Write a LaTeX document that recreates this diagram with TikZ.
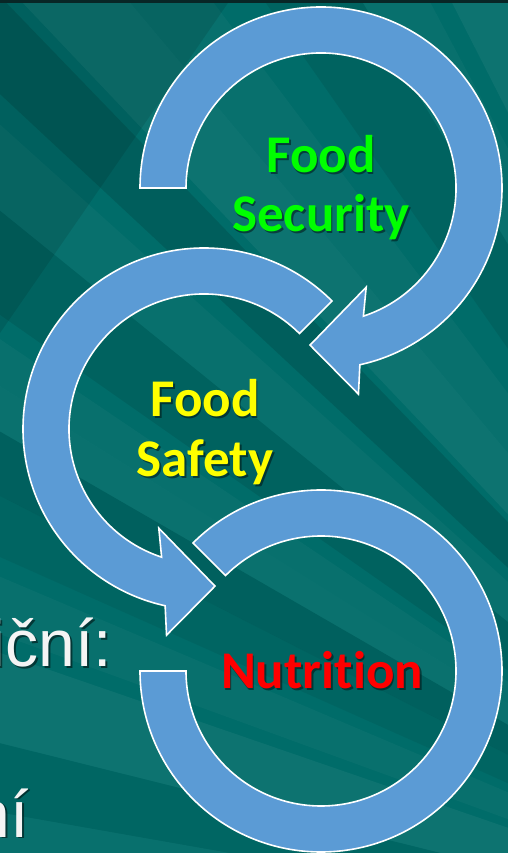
\documentclass[tikz,border=0pt]{standalone}
\usepackage{fontspec}
\setmainfont{Carlito}[Ligatures=NoCommon]
\newfontfamily\arialfont{Liberation Sans}
\definecolor{bgteal}{HTML}{006C69}
\definecolor{arrowblue}{HTML}{5B9BD5}
\definecolor{secgreen}{HTML}{00FF00}
\definecolor{safyellow}{HTML}{FFFF00}
\definecolor{nutred}{HTML}{FF0000}
\definecolor{txtwhite}{HTML}{F4F4F4}
\definecolor{topbar}{HTML}{082626}
\tikzset{
  arrowshape/.style={fill=arrowblue, draw=white, line width=1.6pt, line join=miter},
  lbl/.style={inner sep=0pt, font=\fontsize{53}{59}\selectfont\bfseries},
  sidetxt/.style={inner sep=0pt, font=\arialfont\fontsize{66}{76}\selectfont},
}
\newcommand\shadowed[5]{%
  \node[#5, text=black, opacity=0.45, anchor=base] (#1s) at ([shift={(1.8,-1.8)}]#2) {#4};
  \node[#5, text=#3, anchor=base] (#1) at (#2) {#4};}
\newcommand\shadowedE[5]{%
  \node[#5, text=black, opacity=0.5, anchor=base east] (#1s) at ([shift={(2,-2)}]#2) {#4};
  \node[#5, text=#3, anchor=base east] (#1) at (#2) {#4};}
\begin{document}
\begin{tikzpicture}[x=1pt,y=1pt]
\useasboundingbox (0,0) rectangle (508,853);
\begin{scope}
  \clip (0,0) rectangle (508,853);
  \fill[bgteal] (0,0) rectangle (508,853);
  \coordinate (R) at (950,-127);
  \foreach \a/\b/\c/\o in {
    110/113/white/0.03, 114/117/white/0.05, 118/121/white/0.03, 121/125/black/0.08,
    127/130/white/0.03, 130/133.5/white/0.05, 134/137/black/0.12, 138/141/white/0.03,
    141/145/black/0.09, 146/148/white/0.03, 148/150/white/0.04, 150/153/black/0.10,
    153/156/black/0.06, 157/160/white/0.03, 161/166/white/0.05, 166/170/black/0.05,
    170/175/white/0.03}
  { \fill[\c, opacity=\o] (R) -- ([shift={(\a:2000pt)}]R) -- ([shift={(\b:2000pt)}]R) -- cycle; }
  \fill[black, opacity=0.10] (0,853) -- (0,520) -- (230,853) -- cycle;
  \fill[topbar] (0,850) rectangle (508,853);
\end{scope}

\coordinate (C1) at (321,665);
\coordinate (C2) at (204,424);
\coordinate (C3) at (321,182);

% arrow 1: Food Security
\draw[arrowshape] ([shift={(180:181pt)}]C1) arc[start angle=180, end angle=-77.6, radius=181pt]
  -- ([shift={(-79.7:209.5pt)}]C1) -- ([shift={(-94:157.5pt)}]C1)
  -- ([shift={(-65.5:109pt)}]C1) -- ([shift={(-71.7:135pt)}]C1)
  arc[start angle=-71.7, end angle=180, radius=135pt] -- cycle;
% arrow 2: Food Safety
\draw[arrowshape] ([shift={(45:181pt)}]C2) arc[start angle=45, end angle=257.6, radius=181pt]
  -- ([shift={(259.7:209.5pt)}]C2) -- ([shift={(274:157.5pt)}]C2)
  -- ([shift={(245.5:109pt)}]C2) -- ([shift={(251.7:135pt)}]C2)
  arc[start angle=251.7, end angle=45, radius=135pt] -- cycle;
% arrow 3: Nutrition
\draw[arrowshape] ([shift={(135:181pt)}]C3) arc[start angle=135, end angle=-180, radius=181pt]
  -- ([shift={(180:135pt)}]C3) arc[start angle=-180, end angle=135, radius=135pt] -- cycle;

\coordinate (pfs1) at (321,680);
\coordinate (pfs2) at (321,621);
\coordinate (psa1) at (205,436);
\coordinate (psa2) at (205,376);
\coordinate (pnu) at (322,164);
\coordinate (pl1) at (112,186);
\coordinate (pl2) at (29,16);

\shadowed{fs1}{pfs1}{secgreen}{Food}{lbl}
\shadowed{fs2}{pfs2}{secgreen}{Security}{lbl}
\shadowed{sa1}{psa1}{safyellow}{Food}{lbl}
\shadowed{sa2}{psa2}{safyellow}{Safety}{lbl}
\shadowed{nu}{pnu}{nutred}{Nutrition}{lbl}
\begin{scope}
  \clip (0,0) rectangle (508,853);
  \shadowedE{l1}{pl1}{txtwhite}{iční:}{sidetxt}
  \shadowedE{l2}{pl2}{txtwhite}{ní}{sidetxt}
\end{scope}
\end{tikzpicture}
\end{document}
